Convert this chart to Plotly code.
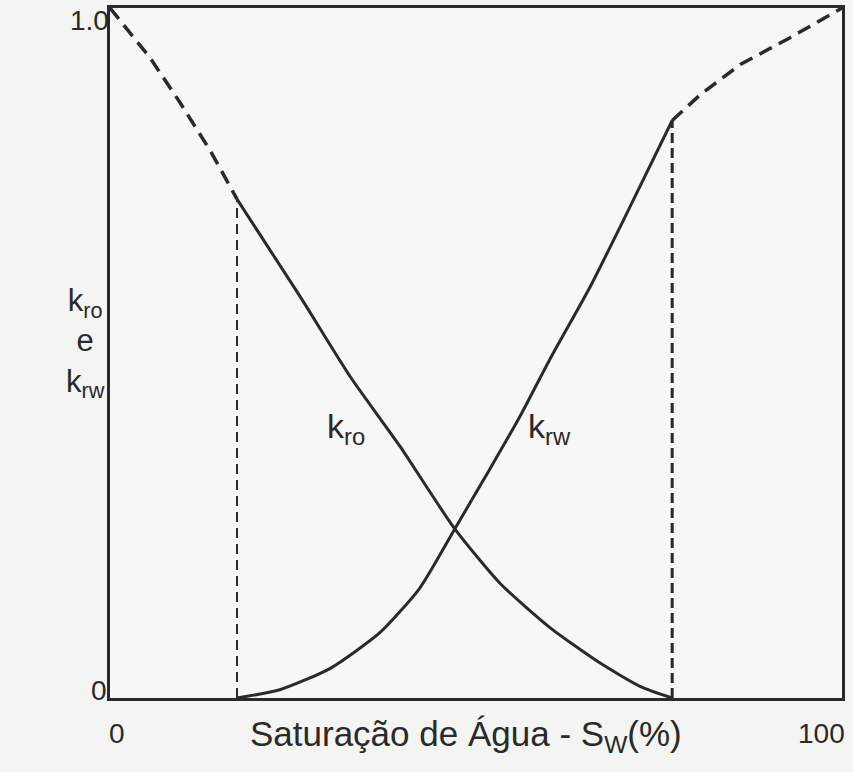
import plotly.graph_objects as go

# Relative permeability curves, water saturation in percent
sw_ro_dash = [0, 5.46, 9.56, 13.66, 17.35]
kro_dash = [1.0, 0.928, 0.863, 0.794, 0.723]

sw_ro = [17.35, 25.96, 32.8, 39.6, 47.1, 53.3, 60.1, 66.9, 72.4, 76.8]
kro = [0.723, 0.582, 0.466, 0.365, 0.245, 0.166, 0.102, 0.051, 0.017, 0.0]

sw_rw = [17.35, 23.2, 30.1, 36.9, 42.3, 47.1, 51.9, 56.0, 60.1, 65.6, 71.0, 76.8]
krw = [0.0, 0.012, 0.043, 0.095, 0.159, 0.245, 0.332, 0.408, 0.491, 0.596, 0.711, 0.837]

sw_rw_dash = [76.8, 80.6, 86.1, 92.9, 100]
krw_dash = [0.837, 0.874, 0.918, 0.957, 1.0]

# End-point saturations (irreducible water / residual oil)
sw_c = [17.35, 17.35]
sw_or = [76.8, 76.8]
end_c = [0.0, 0.723]
end_or = [0.0, 0.837]

x_ticktext = ["0", "100"]
x_tickpos = [0, 100]
y_ticktext = ["0", "1.0"]
y_tickpos = [0, 1]

INK = "#2a2a2a"
FONT = "Liberation Sans, Arial, sans-serif"

fig = go.Figure()

fig.add_trace(go.Scatter(x=sw_ro_dash, y=kro_dash, mode="lines",
                         line=dict(color=INK, width=3.5, dash="14px,8px")))
fig.add_trace(go.Scatter(x=sw_ro, y=kro, mode="lines",
                         line=dict(color=INK, width=3, shape="spline", smoothing=0.6)))
fig.add_trace(go.Scatter(x=sw_rw, y=krw, mode="lines",
                         line=dict(color=INK, width=3, shape="spline", smoothing=0.6)))
fig.add_trace(go.Scatter(x=sw_rw_dash, y=krw_dash, mode="lines",
                         line=dict(color=INK, width=3.5, dash="14px,8px")))
fig.add_trace(go.Scatter(x=sw_c, y=end_c, mode="lines",
                         line=dict(color=INK, width=2, dash="10px,6px")))
fig.add_trace(go.Scatter(x=sw_or, y=end_or, mode="lines",
                         line=dict(color=INK, width=3, dash="10px,5px")))

fig.update_xaxes(range=[0, 100], showticklabels=False,
                 showgrid=False, zeroline=False, ticks="",
                 showline=True, linecolor=INK, linewidth=3, mirror=True)
fig.update_yaxes(range=[0, 1], showticklabels=False,
                 showgrid=False, zeroline=False, ticks="",
                 showline=True, linecolor=INK, linewidth=3, mirror=True)

tick_font = dict(family=FONT, size=28, color=INK)

# Tick labels along the x axis: "0" at the left end, "100" at the right end
fig.add_annotation(x=x_tickpos[0], y=0, yref="paper", text=x_ticktext[0],
                   showarrow=False, xanchor="left", yanchor="top",
                   yshift=-18, xshift=-3, font=tick_font)
fig.add_annotation(x=x_tickpos[1], y=0, yref="paper", text=x_ticktext[1],
                   showarrow=False, xanchor="right", yanchor="top",
                   yshift=-18, xshift=5, font=tick_font)

# Tick labels along the y axis
fig.add_annotation(x=0, xref="paper", y=y_tickpos[0], text=y_ticktext[0],
                   showarrow=False, xanchor="right", yanchor="middle",
                   xshift=-1, yshift=8, font=tick_font)
fig.add_annotation(x=0, xref="paper", y=y_tickpos[1], text=y_ticktext[1],
                   showarrow=False, xanchor="right", yanchor="top",
                   xshift=1, yshift=5, font=tick_font)

# Curve labels
fig.add_annotation(x=32.3, y=0.39, text="k<sub>ro</sub>", showarrow=False,
                   font=dict(family=FONT, size=34, color=INK))
fig.add_annotation(x=60.0, y=0.39, text="k<sub>rw</sub>", showarrow=False,
                   font=dict(family=FONT, size=34, color=INK))

# Axis titles
fig.add_annotation(xref="paper", yref="paper", x=-0.034, y=0.515,
                   xanchor="center", yanchor="middle",
                   text="k<sub>ro</sub><br>e<br>k<sub>rw</sub>", showarrow=False,
                   align="center", font=dict(family=FONT, size=31, color=INK))
fig.add_annotation(xref="paper", yref="paper", x=0.486, y=0, yshift=-14,
                   xanchor="center", yanchor="top",
                   text="Saturação de Água - S<sub>W</sub>(%)", showarrow=False,
                   font=dict(family=FONT, size=35, color=INK))

fig.update_layout(
    width=853, height=772,
    margin=dict(l=110, r=11, t=5, b=74),
    paper_bgcolor="#f4f4f2",
    plot_bgcolor="#f7f7f6",
    showlegend=False,
)

fig.write_html("out.html")
